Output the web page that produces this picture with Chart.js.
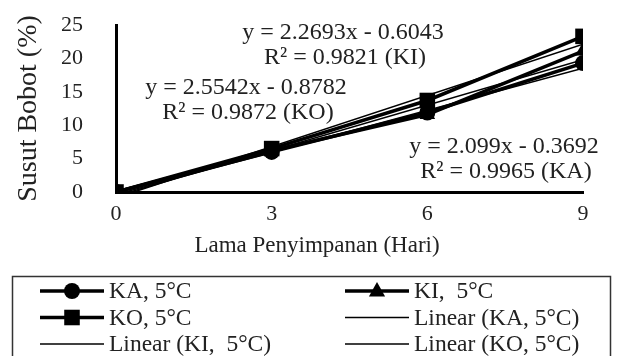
<!DOCTYPE html>
<html>
<head>
<meta charset="utf-8">
<script src="https://cdn.jsdelivr.net/npm/chart.js@4.4.1/dist/chart.umd.min.js"></script>
<style>
  html, body { margin: 0; padding: 0; background: #fff; }
  #wrap { width: 620px; height: 356px; }
</style>
</head>
<body>
<div id="wrap"><canvas id="myChart" width="620" height="356"></canvas></div>
<script>
// data
const days = [0, 3, 6, 9];
const ka = [0, 6.0, 11.9, 19.3];
const ki = [0, 6.2, 11.6, 21.1];
const ko = [0, 6.5, 13.7, 23.3];
const yTicks = [0, 5, 10, 15, 20, 25];
const seriesNames = ['KA, 5°C', 'KI,  5°C', 'KO, 5°C'];
const shortNames = ['KA', 'KI', 'KO'];
// trendline equations printed on the chart
const slopes = [2.099, 2.2693, 2.5542];
const intercepts = [-0.3692, -0.6043, -0.8782];
const r2 = [0.9965, 0.9821, 0.9872];

const FONT = "'Liberation Serif', 'Times New Roman', serif";
const pointStyles = ['circle', 'triangle', 'rect'];
const pointSizes = [8, 9, 11];
const series = [ka, ki, ko];

function trend(i) {
  const x0 = days[0], x1 = days[days.length - 1];
  return [{ x: x0, y: slopes[i] * x0 + intercepts[i] }, { x: x1, y: slopes[i] * x1 + intercepts[i] }];
}

const datasets = [];
series.forEach((vals, i) => {
  datasets.push({
    label: seriesNames[i],
    data: days.map((d, j) => ({ x: d, y: vals[j] })),
    borderColor: '#000', backgroundColor: '#000', borderWidth: 3.5,
    pointStyle: pointStyles[i], pointRadius: pointSizes[i], pointBorderWidth: 0,
    order: 3 - i
  });
});
series.forEach((vals, i) => {
  datasets.push({
    label: 'Linear (' + seriesNames[i] + ')',
    data: trend(i),
    borderColor: '#000', backgroundColor: '#000', borderWidth: 1.5,
    pointRadius: 0, order: 6 - i
  });
});
// legend order: KA, KI, KO, Linear KA, Linear KI, Linear KO

// equation labels (pixel spots of the original text)
const eqSpots = [
  { x: 504, y: 147 },  // KA
  { x: 343, y: 33 },   // KI
  { x: 246, y: 88 }    // KO
];
const eqPlugin = {
  id: 'eqLabels',
  afterDatasetsDraw(chart) {
    const ctx = chart.ctx;
    ctx.save();
    ctx.fillStyle = '#222';
    ctx.font = '24px ' + FONT;
    ctx.textAlign = 'center';
    ctx.textBaseline = 'middle';
    slopes.forEach((s, i) => {
      const p = eqSpots[i];
      ctx.fillText('y = ' + s + 'x - ' + Math.abs(intercepts[i]), p.x, p.y);
      ctx.fillText('R² = ' + r2[i] + ' (' + shortNames[i] + ')', p.x + 2, p.y + 25);
    });
    // x axis title, centred on the figure like the original
    ctx.font = '23px ' + FONT;
    ctx.fillText('Lama Penyimpanan (Hari)', 317, 246);
    ctx.restore();
  }
};

function drawMarker(ctx, style, x, y, r) {
  ctx.beginPath();
  if (style === 'circle') {
    ctx.arc(x, y, r, 0, Math.PI * 2);
  } else if (style === 'rect') {
    const h = r * Math.SQRT1_2;
    ctx.rect(x - h, y - h, 2 * h, 2 * h);
  } else {
    ctx.moveTo(x, y - r);
    ctx.lineTo(x + r * 0.9, y + r * 0.6);
    ctx.lineTo(x - r * 0.9, y + r * 0.6);
    ctx.closePath();
  }
  ctx.fill();
}

const legendPlugin = {
  id: 'boxLegend',
  afterDraw(chart) {
    const ctx = chart.ctx;
    ctx.save();
    ctx.strokeStyle = '#333';
    ctx.lineWidth = 1.5;
    ctx.strokeRect(12.5, 276.5, 598, 90);
    ctx.font = '23.5px ' + FONT;
    ctx.textBaseline = 'middle';
    ctx.fillStyle = '#222';
    chart.data.datasets.forEach((ds, i) => {
      const col = i % 2, row = Math.floor(i / 2);
      const x0 = col ? 345 : 40;
      const y = 291 + row * 26.5;
      ctx.strokeStyle = '#000';
      ctx.lineWidth = ds.pointRadius ? 3.5 : 1.5;
      ctx.beginPath();
      ctx.moveTo(x0, y);
      ctx.lineTo(x0 + 64, y);
      ctx.stroke();
      if (ds.pointRadius) {
        ctx.fillStyle = '#000';
        drawMarker(ctx, ds.pointStyle, x0 + 32, y, ds.pointRadius);
      }
      ctx.fillStyle = '#222';
      ctx.fillText(ds.label, x0 + 69, y + 1);
    });
    ctx.restore();
  }
};

new Chart(document.getElementById('myChart').getContext('2d'), {
  type: 'line',
  data: { datasets: datasets },
  plugins: [eqPlugin, legendPlugin],
  options: {
    responsive: false,
    animation: false,
    devicePixelRatio: 1,
    layout: { padding: { top: 25, right: 37, left: 0, bottom: 94 } },
    plugins: { legend: { display: false }, tooltip: { enabled: false } },
    scales: {
      x: {
        type: 'linear', min: 0, max: 9,
        afterBuildTicks(scale) { scale.ticks = days.map(v => ({ value: v })); },
        afterFit(scale) { scale.height = 70; },
        grid: { display: false, drawTicks: false },
        border: { display: true, color: '#000', width: 3 },
        ticks: { color: '#222', font: { family: FONT, size: 22 }, padding: 9, autoSkip: false, maxRotation: 0 }
      },
      y: {
        min: 0, max: 25,
        afterBuildTicks(scale) { scale.ticks = yTicks.map(v => ({ value: v })); },
        afterFit(scale) { scale.width = 116; scale.paddingTop = 0; scale.paddingBottom = 0; },
        grid: { display: false, drawTicks: false },
        border: { display: true, color: '#000', width: 3 },
        ticks: { color: '#222', font: { family: FONT, size: 22 }, padding: 33, autoSkip: false },
        title: { display: true, text: 'Susut Bobot (%)', color: '#222', font: { family: FONT, size: 28 }, padding: { top: 12, bottom: 0 } }
      }
    }
  }
});
</script>
</body>
</html>
